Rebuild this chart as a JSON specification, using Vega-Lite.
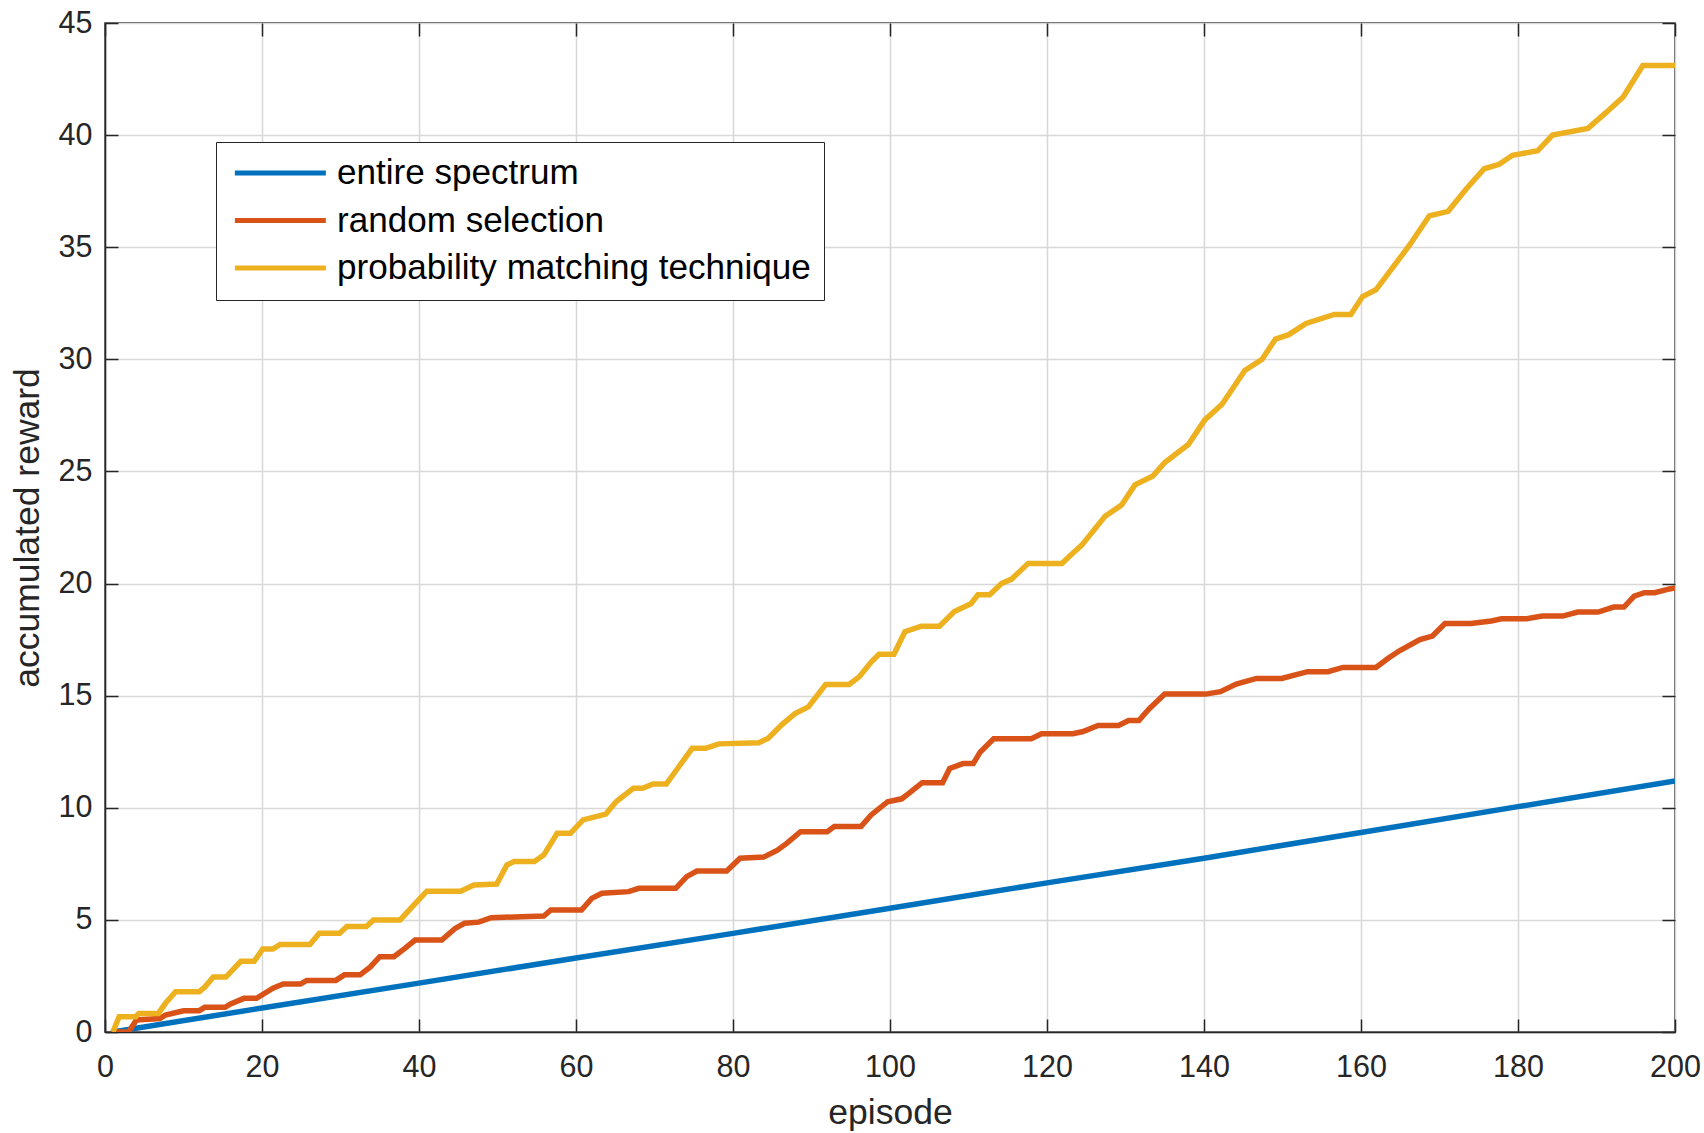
{
  "$schema": "https://vega.github.io/schema/vega-lite/v6.json",
  "width": 1570,
  "height": 1009,
  "autosize": {"type": "none"},
  "padding": {"left": 105, "top": 23, "right": 29, "bottom": 101},
  "background": "white",
  "config": {
    "font": "Liberation Sans",
    "view": {"stroke": "#262626", "strokeWidth": 1.5},
    "axis": {
      "labelFont": "Liberation Sans",
      "titleFont": "Liberation Sans",
      "labelColor": "#262626",
      "titleColor": "#262626",
      "titleFontWeight": "normal",
      "domainColor": "#262626",
      "domainWidth": 1.5,
      "tickColor": "#262626",
      "tickWidth": 1.5,
      "tickSize": -13,
      "gridColor": "#d8d8d8",
      "gridWidth": 1.5,
      "labelFontSize": 30.5,
      "titleFontSize": 35.5
    },
    "legend": {
      "labelFont": "Liberation Sans",
      "labelFontSize": 35.1,
      "labelColor": "#000000"
    }
  },
  "datasets": {
    "rewards": [
      {"series": "entire spectrum", "episode": 1, "value": 0},
      {"series": "entire spectrum", "episode": 20, "value": 1.07},
      {"series": "entire spectrum", "episode": 40, "value": 2.18},
      {"series": "entire spectrum", "episode": 60, "value": 3.3},
      {"series": "entire spectrum", "episode": 80, "value": 4.4},
      {"series": "entire spectrum", "episode": 100, "value": 5.52},
      {"series": "entire spectrum", "episode": 120, "value": 6.65},
      {"series": "entire spectrum", "episode": 140, "value": 7.75},
      {"series": "entire spectrum", "episode": 160, "value": 8.9},
      {"series": "entire spectrum", "episode": 180, "value": 10.05},
      {"series": "entire spectrum", "episode": 200, "value": 11.2},

      {"series": "random selection", "episode": 1, "value": 0},
      {"series": "random selection", "episode": 3, "value": 0},
      {"series": "random selection", "episode": 4, "value": 0.54},
      {"series": "random selection", "episode": 7, "value": 0.6},
      {"series": "random selection", "episode": 7.7, "value": 0.76},
      {"series": "random selection", "episode": 10, "value": 0.95},
      {"series": "random selection", "episode": 12, "value": 0.95},
      {"series": "random selection", "episode": 12.7, "value": 1.1},
      {"series": "random selection", "episode": 15.3, "value": 1.1},
      {"series": "random selection", "episode": 16, "value": 1.25},
      {"series": "random selection", "episode": 17.7, "value": 1.5},
      {"series": "random selection", "episode": 19.3, "value": 1.5},
      {"series": "random selection", "episode": 21.4, "value": 1.95},
      {"series": "random selection", "episode": 22.7, "value": 2.14},
      {"series": "random selection", "episode": 24.9, "value": 2.14},
      {"series": "random selection", "episode": 25.7, "value": 2.3},
      {"series": "random selection", "episode": 29.4, "value": 2.3},
      {"series": "random selection", "episode": 30.5, "value": 2.55},
      {"series": "random selection", "episode": 32.5, "value": 2.55},
      {"series": "random selection", "episode": 33.8, "value": 2.9},
      {"series": "random selection", "episode": 35, "value": 3.36},
      {"series": "random selection", "episode": 36.8, "value": 3.36},
      {"series": "random selection", "episode": 38.2, "value": 3.73},
      {"series": "random selection", "episode": 39.5, "value": 4.1},
      {"series": "random selection", "episode": 42.9, "value": 4.1},
      {"series": "random selection", "episode": 44.6, "value": 4.62},
      {"series": "random selection", "episode": 45.8, "value": 4.85},
      {"series": "random selection", "episode": 47.6, "value": 4.9},
      {"series": "random selection", "episode": 49.2, "value": 5.1},
      {"series": "random selection", "episode": 53, "value": 5.14},
      {"series": "random selection", "episode": 55.9, "value": 5.17},
      {"series": "random selection", "episode": 56.8, "value": 5.44},
      {"series": "random selection", "episode": 60.7, "value": 5.44},
      {"series": "random selection", "episode": 62, "value": 5.96},
      {"series": "random selection", "episode": 63.3, "value": 6.19},
      {"series": "random selection", "episode": 66.7, "value": 6.26},
      {"series": "random selection", "episode": 68, "value": 6.41},
      {"series": "random selection", "episode": 72.7, "value": 6.41},
      {"series": "random selection", "episode": 74.1, "value": 6.93},
      {"series": "random selection", "episode": 75.4, "value": 7.18},
      {"series": "random selection", "episode": 79.2, "value": 7.18},
      {"series": "random selection", "episode": 80.9, "value": 7.75},
      {"series": "random selection", "episode": 83.9, "value": 7.8},
      {"series": "random selection", "episode": 85.6, "value": 8.1},
      {"series": "random selection", "episode": 86.8, "value": 8.4},
      {"series": "random selection", "episode": 88.6, "value": 8.93},
      {"series": "random selection", "episode": 92, "value": 8.93},
      {"series": "random selection", "episode": 92.9, "value": 9.16},
      {"series": "random selection", "episode": 96.3, "value": 9.16},
      {"series": "random selection", "episode": 97.6, "value": 9.68},
      {"series": "random selection", "episode": 99.7, "value": 10.27},
      {"series": "random selection", "episode": 101.5, "value": 10.4},
      {"series": "random selection", "episode": 102.4, "value": 10.64},
      {"series": "random selection", "episode": 104.1, "value": 11.12},
      {"series": "random selection", "episode": 106.7, "value": 11.12},
      {"series": "random selection", "episode": 107.6, "value": 11.75},
      {"series": "random selection", "episode": 109.3, "value": 11.97},
      {"series": "random selection", "episode": 110.6, "value": 11.97},
      {"series": "random selection", "episode": 111.5, "value": 12.49},
      {"series": "random selection", "episode": 113.2, "value": 13.08},
      {"series": "random selection", "episode": 118, "value": 13.08},
      {"series": "random selection", "episode": 119.3, "value": 13.3},
      {"series": "random selection", "episode": 123.3, "value": 13.3},
      {"series": "random selection", "episode": 124.6, "value": 13.4},
      {"series": "random selection", "episode": 126.5, "value": 13.67},
      {"series": "random selection", "episode": 129.1, "value": 13.67},
      {"series": "random selection", "episode": 130.4, "value": 13.89},
      {"series": "random selection", "episode": 131.7, "value": 13.89},
      {"series": "random selection", "episode": 133, "value": 14.41},
      {"series": "random selection", "episode": 135, "value": 15.07},
      {"series": "random selection", "episode": 140.2, "value": 15.07},
      {"series": "random selection", "episode": 142.1, "value": 15.18},
      {"series": "random selection", "episode": 144.1, "value": 15.52},
      {"series": "random selection", "episode": 146.7, "value": 15.77},
      {"series": "random selection", "episode": 149.9, "value": 15.77},
      {"series": "random selection", "episode": 153.2, "value": 16.07},
      {"series": "random selection", "episode": 155.8, "value": 16.07},
      {"series": "random selection", "episode": 157.7, "value": 16.26},
      {"series": "random selection", "episode": 161.9, "value": 16.26},
      {"series": "random selection", "episode": 163.6, "value": 16.7},
      {"series": "random selection", "episode": 164.9, "value": 17.0},
      {"series": "random selection", "episode": 167.5, "value": 17.5},
      {"series": "random selection", "episode": 169.1, "value": 17.66},
      {"series": "random selection", "episode": 170.7, "value": 18.22},
      {"series": "random selection", "episode": 174, "value": 18.22},
      {"series": "random selection", "episode": 176.6, "value": 18.33},
      {"series": "random selection", "episode": 177.9, "value": 18.43},
      {"series": "random selection", "episode": 181.1, "value": 18.43},
      {"series": "random selection", "episode": 183.1, "value": 18.55},
      {"series": "random selection", "episode": 185.7, "value": 18.55},
      {"series": "random selection", "episode": 187.6, "value": 18.73},
      {"series": "random selection", "episode": 190.2, "value": 18.73},
      {"series": "random selection", "episode": 192.2, "value": 18.95},
      {"series": "random selection", "episode": 193.5, "value": 18.95},
      {"series": "random selection", "episode": 194.8, "value": 19.44},
      {"series": "random selection", "episode": 196.1, "value": 19.59},
      {"series": "random selection", "episode": 197.4, "value": 19.59},
      {"series": "random selection", "episode": 199.3, "value": 19.76},
      {"series": "random selection", "episode": 200, "value": 19.8},

      {"series": "probability matching technique", "episode": 1, "value": 0},
      {"series": "probability matching technique", "episode": 1.8, "value": 0.68},
      {"series": "probability matching technique", "episode": 3.9, "value": 0.68},
      {"series": "probability matching technique", "episode": 4.3, "value": 0.83},
      {"series": "probability matching technique", "episode": 6.8, "value": 0.83},
      {"series": "probability matching technique", "episode": 7.7, "value": 1.28},
      {"series": "probability matching technique", "episode": 9, "value": 1.8},
      {"series": "probability matching technique", "episode": 12, "value": 1.8},
      {"series": "probability matching technique", "episode": 12.7, "value": 2.0},
      {"series": "probability matching technique", "episode": 13.8, "value": 2.45},
      {"series": "probability matching technique", "episode": 15.4, "value": 2.45},
      {"series": "probability matching technique", "episode": 17.3, "value": 3.15},
      {"series": "probability matching technique", "episode": 19, "value": 3.15},
      {"series": "probability matching technique", "episode": 20.1, "value": 3.7},
      {"series": "probability matching technique", "episode": 21.4, "value": 3.7},
      {"series": "probability matching technique", "episode": 22.3, "value": 3.9},
      {"series": "probability matching technique", "episode": 26.1, "value": 3.9},
      {"series": "probability matching technique", "episode": 27.3, "value": 4.4},
      {"series": "probability matching technique", "episode": 29.9, "value": 4.4},
      {"series": "probability matching technique", "episode": 30.8, "value": 4.7},
      {"series": "probability matching technique", "episode": 33.3, "value": 4.7},
      {"series": "probability matching technique", "episode": 34.2, "value": 5.0},
      {"series": "probability matching technique", "episode": 37.6, "value": 5.0},
      {"series": "probability matching technique", "episode": 39.3, "value": 5.65},
      {"series": "probability matching technique", "episode": 41, "value": 6.28},
      {"series": "probability matching technique", "episode": 45.3, "value": 6.28},
      {"series": "probability matching technique", "episode": 47, "value": 6.56},
      {"series": "probability matching technique", "episode": 49.9, "value": 6.6},
      {"series": "probability matching technique", "episode": 51.2, "value": 7.45},
      {"series": "probability matching technique", "episode": 52.1, "value": 7.6},
      {"series": "probability matching technique", "episode": 54.7, "value": 7.6},
      {"series": "probability matching technique", "episode": 55.9, "value": 7.9},
      {"series": "probability matching technique", "episode": 57.6, "value": 8.86},
      {"series": "probability matching technique", "episode": 59.3, "value": 8.86},
      {"series": "probability matching technique", "episode": 60.9, "value": 9.46},
      {"series": "probability matching technique", "episode": 63.8, "value": 9.72},
      {"series": "probability matching technique", "episode": 65.1, "value": 10.27},
      {"series": "probability matching technique", "episode": 67.3, "value": 10.87},
      {"series": "probability matching technique", "episode": 68.5, "value": 10.87},
      {"series": "probability matching technique", "episode": 69.8, "value": 11.06},
      {"series": "probability matching technique", "episode": 71.5, "value": 11.06},
      {"series": "probability matching technique", "episode": 73.1, "value": 11.83},
      {"series": "probability matching technique", "episode": 74.8, "value": 12.65},
      {"series": "probability matching technique", "episode": 76.5, "value": 12.65},
      {"series": "probability matching technique", "episode": 78.2, "value": 12.85},
      {"series": "probability matching technique", "episode": 83.3, "value": 12.9},
      {"series": "probability matching technique", "episode": 84.5, "value": 13.1},
      {"series": "probability matching technique", "episode": 86.2, "value": 13.7},
      {"series": "probability matching technique", "episode": 87.9, "value": 14.2},
      {"series": "probability matching technique", "episode": 89.6, "value": 14.5},
      {"series": "probability matching technique", "episode": 91.8, "value": 15.5},
      {"series": "probability matching technique", "episode": 94.8, "value": 15.5},
      {"series": "probability matching technique", "episode": 96.1, "value": 15.85},
      {"series": "probability matching technique", "episode": 97.6, "value": 16.5},
      {"series": "probability matching technique", "episode": 98.6, "value": 16.85},
      {"series": "probability matching technique", "episode": 100.5, "value": 16.85},
      {"series": "probability matching technique", "episode": 101.9, "value": 17.85},
      {"series": "probability matching technique", "episode": 104, "value": 18.1},
      {"series": "probability matching technique", "episode": 106.3, "value": 18.1},
      {"series": "probability matching technique", "episode": 108.2, "value": 18.75},
      {"series": "probability matching technique", "episode": 110.3, "value": 19.1},
      {"series": "probability matching technique", "episode": 111.2, "value": 19.5},
      {"series": "probability matching technique", "episode": 112.7, "value": 19.5},
      {"series": "probability matching technique", "episode": 114.2, "value": 20.0},
      {"series": "probability matching technique", "episode": 115.5, "value": 20.2},
      {"series": "probability matching technique", "episode": 117.6, "value": 20.9},
      {"series": "probability matching technique", "episode": 121.9, "value": 20.9},
      {"series": "probability matching technique", "episode": 123.1, "value": 21.3},
      {"series": "probability matching technique", "episode": 124.4, "value": 21.7},
      {"series": "probability matching technique", "episode": 127.4, "value": 23.0},
      {"series": "probability matching technique", "episode": 129.5, "value": 23.5},
      {"series": "probability matching technique", "episode": 131.2, "value": 24.4},
      {"series": "probability matching technique", "episode": 133.5, "value": 24.8},
      {"series": "probability matching technique", "episode": 135, "value": 25.4},
      {"series": "probability matching technique", "episode": 138, "value": 26.2},
      {"series": "probability matching technique", "episode": 140.1, "value": 27.3},
      {"series": "probability matching technique", "episode": 142.3, "value": 28.0},
      {"series": "probability matching technique", "episode": 145.2, "value": 29.5},
      {"series": "probability matching technique", "episode": 147.4, "value": 30.0},
      {"series": "probability matching technique", "episode": 149.1, "value": 30.9},
      {"series": "probability matching technique", "episode": 150.8, "value": 31.1},
      {"series": "probability matching technique", "episode": 153, "value": 31.6},
      {"series": "probability matching technique", "episode": 156.6, "value": 32.0},
      {"series": "probability matching technique", "episode": 158.7, "value": 32.0},
      {"series": "probability matching technique", "episode": 160.2, "value": 32.8},
      {"series": "probability matching technique", "episode": 161.9, "value": 33.1},
      {"series": "probability matching technique", "episode": 166.2, "value": 35.1},
      {"series": "probability matching technique", "episode": 168.7, "value": 36.4},
      {"series": "probability matching technique", "episode": 171.1, "value": 36.6},
      {"series": "probability matching technique", "episode": 173.4, "value": 37.6},
      {"series": "probability matching technique", "episode": 175.7, "value": 38.5},
      {"series": "probability matching technique", "episode": 177.6, "value": 38.7},
      {"series": "probability matching technique", "episode": 179.3, "value": 39.1},
      {"series": "probability matching technique", "episode": 182.5, "value": 39.3},
      {"series": "probability matching technique", "episode": 184.4, "value": 40.0},
      {"series": "probability matching technique", "episode": 188.9, "value": 40.3},
      {"series": "probability matching technique", "episode": 191.2, "value": 41.0},
      {"series": "probability matching technique", "episode": 193.4, "value": 41.7},
      {"series": "probability matching technique", "episode": 195.9, "value": 43.1},
      {"series": "probability matching technique", "episode": 200, "value": 43.1}
    ]
  },
  "data": {"name": "rewards"},
  "layer": [
    {
      "mark": {"type": "line", "strokeWidth": 5.5, "clip": true},
      "encoding": {
        "x": {
          "field": "episode", "type": "quantitative",
          "scale": {"domain": [0, 200], "nice": false, "zero": false},
          "axis": {
            "title": "episode",
            "values": [0, 20, 40, 60, 80, 100, 120, 140, 160, 180, 200],
            "labelPadding": 33,
            "titlePadding": 13,
            "grid": true,
            "labelFlush": false
          }
        },
        "y": {
          "field": "value", "type": "quantitative",
          "scale": {"domain": [0, 45], "nice": false},
          "axis": {
            "title": "accumulated reward",
            "values": [0, 5, 10, 15, 20, 25, 30, 35, 40, 45],
            "labelPadding": 26,
            "titlePadding": 13,
            "grid": true,
            "labelFlush": false
          }
        },
        "color": {
          "field": "series", "type": "nominal",
          "sort": ["entire spectrum", "random selection", "probability matching technique"],
          "scale": {
            "domain": ["entire spectrum", "random selection", "probability matching technique"],
            "range": ["#0072BD", "#D95319", "#EDB120"]
          },
          "legend": {
            "title": null,
            "orient": "none",
            "legendX": 111,
            "legendY": 119,
            "symbolType": "M-0.8,0H5.2",
            "symbolSize": 920,
            "symbolStrokeWidth": 5,
            "labelOffset": 72,
            "labelLimit": 0,
            "rowPadding": 10.5,
            "padding": 13,
            "strokeColor": "#262626",
            "fillColor": "white",
            "labelFontSize": 35.1
          }
        },
        "order": {"field": "episode", "type": "quantitative"}
      }
    },
    {
      "mark": {"type": "line", "strokeOpacity": 0},
      "encoding": {
        "x": {
          "field": "episode", "type": "quantitative",
          "axis": {
            "orient": "top", "title": null, "labels": false, "grid": false, "domain": false,
            "values": [0, 20, 40, 60, 80, 100, 120, 140, 160, 180, 200]
          }
        },
        "y": {
          "field": "value", "type": "quantitative",
          "axis": {
            "orient": "right", "title": null, "labels": false, "grid": false, "domain": false,
            "values": [0, 5, 10, 15, 20, 25, 30, 35, 40, 45]
          }
        },
        "detail": {"field": "series"}
      }
    }
  ],
  "resolve": {"axis": {"x": "independent", "y": "independent"}}
}
